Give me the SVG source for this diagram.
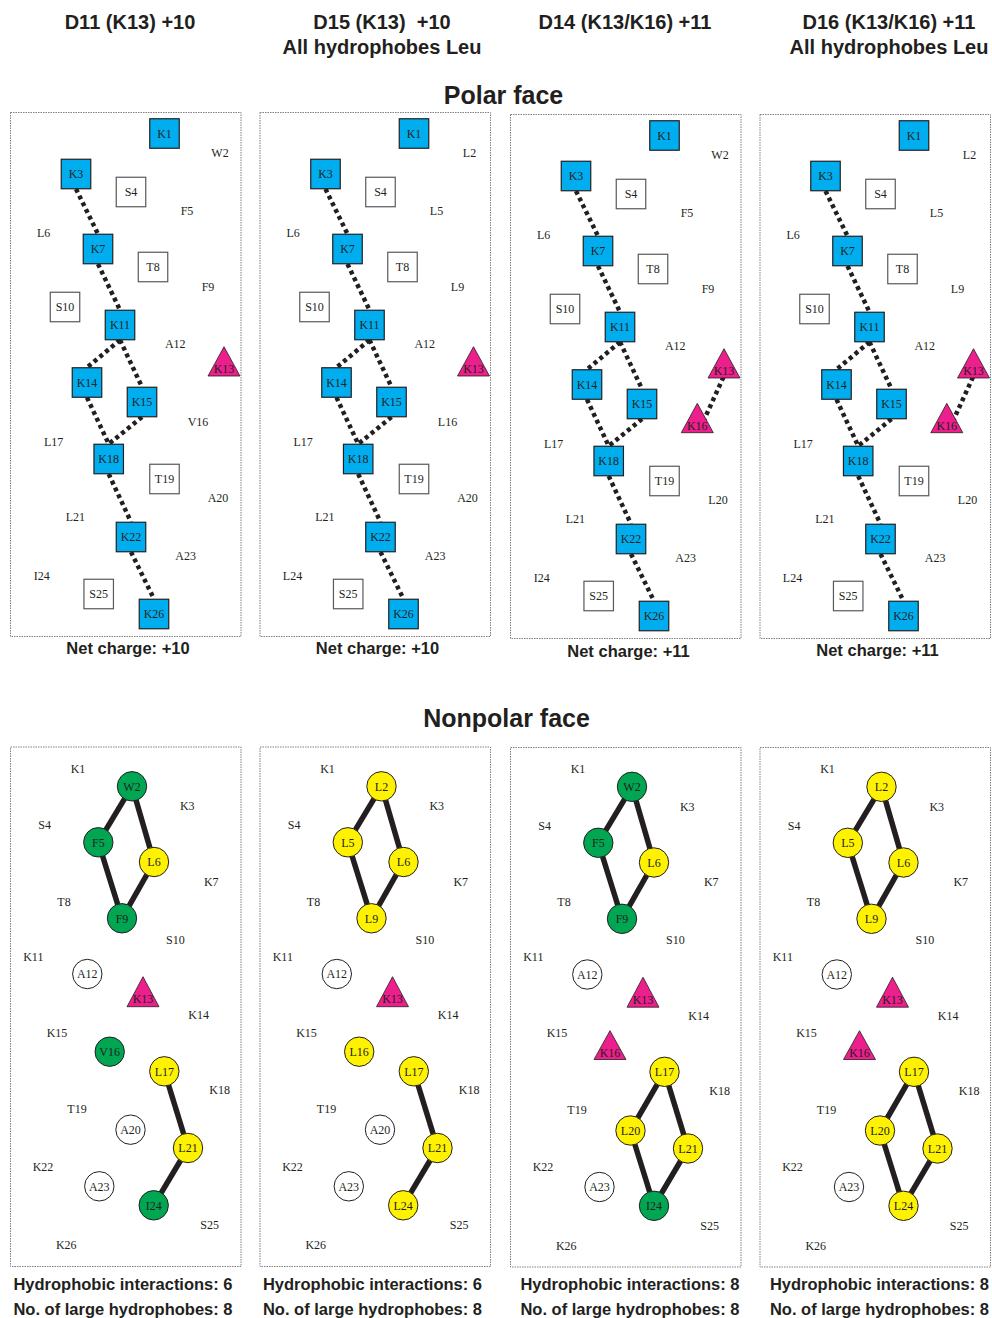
<svg xmlns="http://www.w3.org/2000/svg" width="992" height="1318" viewBox="0 0 992 1318">
<style>
.sq{fill:#00AEEF;stroke:#231F20;stroke-width:1.2}
.ws{fill:#fff;stroke:#58595B;stroke-width:1.2}
.tri{fill:#EC1F8C;stroke:#231F20;stroke-width:0.8}
.cg{fill:#00A651;stroke:#231F20;stroke-width:1}
.cy{fill:#FFF200;stroke:#231F20;stroke-width:1}
.cw{fill:#fff;stroke:#231F20;stroke-width:1}
.t{font-family:"Liberation Serif","Times New Roman",serif;font-size:12px;fill:#231F20;text-anchor:middle}
.dot{stroke:#231F20;stroke-width:4.5;stroke-dasharray:4 3.5;fill:none}
.bond{stroke:#231F20;stroke-width:5.5;fill:none}
.frame{fill:none;stroke:#808080;stroke-width:1;stroke-dasharray:1.5 1}
.h{font-family:"Liberation Sans",Arial,sans-serif;font-weight:bold;fill:#231F20;text-anchor:middle}
.h20{font-size:20px}
.h25{font-size:25px}
.h16{font-size:16.5px}
</style>

<!-- Titles -->
<g id="titles">
<text class="h h20" x="130" y="29">D11 (K13) +10</text>
<text class="h h20" x="382" y="29" xml:space="preserve" style="white-space:pre">D15 (K13)  +10</text>
<text class="h h20" x="382" y="54">All hydrophobes Leu</text>
<text class="h h20" x="625" y="29">D14 (K13/K16) +11</text>
<text class="h h20" x="889" y="29">D16 (K13/K16) +11</text>
<text class="h h20" x="889" y="54">All hydrophobes Leu</text>
<text class="h h25" x="503.5" y="104">Polar face</text>
<text class="h h25" x="506.5" y="727">Nonpolar face</text>
</g>

<!-- ===== POLAR PANEL 1 (D11) ===== -->
<g id="polar-D11">
<rect class="frame" x="10.5" y="112.5" width="230.5" height="524"/>
<g id="polar-D11-connectors">
<line class="dot" x1="76" y1="189" x2="98" y2="234"/>
<line class="dot" x1="98" y1="264" x2="120" y2="310"/>
<line class="dot" x1="120" y1="340" x2="87" y2="367.5"/>
<line class="dot" x1="120" y1="340" x2="142" y2="387"/>
<line class="dot" x1="87" y1="397.5" x2="108.7" y2="444"/>
<line class="dot" x1="142" y1="417" x2="108.7" y2="444"/>
<line class="dot" x1="108.7" y1="474" x2="131" y2="522"/>
<line class="dot" x1="131" y1="552" x2="154" y2="599"/>
</g>
<g id="p1-K1"><rect class="sq" x="149.75" y="118.75" width="29.5" height="29.5"/><text class="t" x="164.5" y="137.7">K1</text></g>
<g id="p1-K3"><rect class="sq" x="61.25" y="159.25" width="29.5" height="29.5"/><text class="t" x="76" y="178.2">K3</text></g>
<g id="p1-S4"><rect class="ws" x="116.25" y="177.25" width="29.5" height="29.5"/><text class="t" x="131" y="196.2">S4</text></g>
<g id="p1-K7"><rect class="sq" x="83.25" y="234.25" width="29.5" height="29.5"/><text class="t" x="98" y="253.2">K7</text></g>
<g id="p1-T8"><rect class="ws" x="138.25" y="252.25" width="29.5" height="29.5"/><text class="t" x="153" y="271.2">T8</text></g>
<g id="p1-S10"><rect class="ws" x="50.25" y="292.25" width="29.5" height="29.5"/><text class="t" x="65" y="311.2">S10</text></g>
<g id="p1-K11"><rect class="sq" x="105.25" y="310.25" width="29.5" height="29.5"/><text class="t" x="120" y="329.2">K11</text></g>
<g id="p1-K13"><polygon class="tri" points="224,346.7 208,376 240,376"/><text class="t" x="224" y="372.5">K13</text></g>
<g id="p1-K14"><rect class="sq" x="72.25" y="367.75" width="29.5" height="29.5"/><text class="t" x="87" y="386.7">K14</text></g>
<g id="p1-K15"><rect class="sq" x="127.25" y="387.25" width="29.5" height="29.5"/><text class="t" x="142" y="406.2">K15</text></g>
<g id="p1-K18"><rect class="sq" x="93.95" y="444.25" width="29.5" height="29.5"/><text class="t" x="108.7" y="463.2">K18</text></g>
<g id="p1-T19"><rect class="ws" x="149.75" y="464.25" width="29.5" height="29.5"/><text class="t" x="164.5" y="483.2">T19</text></g>
<g id="p1-K22"><rect class="sq" x="116.25" y="522.25" width="29.5" height="29.5"/><text class="t" x="131" y="541.2">K22</text></g>
<g id="p1-S25"><rect class="ws" x="83.95" y="579.25" width="29.5" height="29.5"/><text class="t" x="98.7" y="598.2">S25</text></g>
<g id="p1-K26"><rect class="sq" x="139.25" y="599.25" width="29.5" height="29.5"/><text class="t" x="154" y="618.2">K26</text></g>
<g id="p1-labels">
<text class="t" x="220" y="156.9">W2</text>
<text class="t" x="187" y="214.9">F5</text>
<text class="t" x="43.7" y="237.2">L6</text>
<text class="t" x="208" y="290.9">F9</text>
<text class="t" x="175.3" y="348.2">A12</text>
<text class="t" x="198" y="425.9">V16</text>
<text class="t" x="53.7" y="445.9">L17</text>
<text class="t" x="218" y="501.9">A20</text>
<text class="t" x="75.3" y="520.9">L21</text>
<text class="t" x="185.7" y="559.9">A23</text>
<text class="t" x="41.7" y="580.2">I24</text>
</g>
</g>

<!-- ===== POLAR PANEL 2 (D15) ===== -->
<g id="polar-D15" transform="translate(249.5,0)">
<rect class="frame" x="10.5" y="112.5" width="230.5" height="524"/>
<g id="polar-D15-connectors">
<line class="dot" x1="76" y1="189" x2="98" y2="234"/>
<line class="dot" x1="98" y1="264" x2="120" y2="310"/>
<line class="dot" x1="120" y1="340" x2="87" y2="367.5"/>
<line class="dot" x1="120" y1="340" x2="142" y2="387"/>
<line class="dot" x1="87" y1="397.5" x2="108.7" y2="444"/>
<line class="dot" x1="142" y1="417" x2="108.7" y2="444"/>
<line class="dot" x1="108.7" y1="474" x2="131" y2="522"/>
<line class="dot" x1="131" y1="552" x2="154" y2="599"/>
</g>
<g id="p2-K1"><rect class="sq" x="149.75" y="118.75" width="29.5" height="29.5"/><text class="t" x="164.5" y="137.7">K1</text></g>
<g id="p2-K3"><rect class="sq" x="61.25" y="159.25" width="29.5" height="29.5"/><text class="t" x="76" y="178.2">K3</text></g>
<g id="p2-S4"><rect class="ws" x="116.25" y="177.25" width="29.5" height="29.5"/><text class="t" x="131" y="196.2">S4</text></g>
<g id="p2-K7"><rect class="sq" x="83.25" y="234.25" width="29.5" height="29.5"/><text class="t" x="98" y="253.2">K7</text></g>
<g id="p2-T8"><rect class="ws" x="138.25" y="252.25" width="29.5" height="29.5"/><text class="t" x="153" y="271.2">T8</text></g>
<g id="p2-S10"><rect class="ws" x="50.25" y="292.25" width="29.5" height="29.5"/><text class="t" x="65" y="311.2">S10</text></g>
<g id="p2-K11"><rect class="sq" x="105.25" y="310.25" width="29.5" height="29.5"/><text class="t" x="120" y="329.2">K11</text></g>
<g id="p2-K13"><polygon class="tri" points="224,346.7 208,376 240,376"/><text class="t" x="224" y="372.5">K13</text></g>
<g id="p2-K14"><rect class="sq" x="72.25" y="367.75" width="29.5" height="29.5"/><text class="t" x="87" y="386.7">K14</text></g>
<g id="p2-K15"><rect class="sq" x="127.25" y="387.25" width="29.5" height="29.5"/><text class="t" x="142" y="406.2">K15</text></g>
<g id="p2-K18"><rect class="sq" x="93.95" y="444.25" width="29.5" height="29.5"/><text class="t" x="108.7" y="463.2">K18</text></g>
<g id="p2-T19"><rect class="ws" x="149.75" y="464.25" width="29.5" height="29.5"/><text class="t" x="164.5" y="483.2">T19</text></g>
<g id="p2-K22"><rect class="sq" x="116.25" y="522.25" width="29.5" height="29.5"/><text class="t" x="131" y="541.2">K22</text></g>
<g id="p2-S25"><rect class="ws" x="83.95" y="579.25" width="29.5" height="29.5"/><text class="t" x="98.7" y="598.2">S25</text></g>
<g id="p2-K26"><rect class="sq" x="139.25" y="599.25" width="29.5" height="29.5"/><text class="t" x="154" y="618.2">K26</text></g>
<g id="p2-labels">
<text class="t" x="220" y="156.9">L2</text>
<text class="t" x="187" y="214.9">L5</text>
<text class="t" x="43.7" y="237.2">L6</text>
<text class="t" x="208" y="290.9">L9</text>
<text class="t" x="175.3" y="348.2">A12</text>
<text class="t" x="198" y="425.9">L16</text>
<text class="t" x="53.7" y="445.9">L17</text>
<text class="t" x="218" y="501.9">A20</text>
<text class="t" x="75.3" y="520.9">L21</text>
<text class="t" x="185.7" y="559.9">A23</text>
<text class="t" x="43" y="580.2">L24</text>
</g>
</g>

<!-- ===== POLAR PANEL 3 (D14) ===== -->
<g id="polar-D14" transform="translate(500,2)">
<rect class="frame" x="10.5" y="112.5" width="230.5" height="524"/>
<g id="polar-D14-connectors">
<line class="dot" x1="76" y1="189" x2="98" y2="234"/>
<line class="dot" x1="98" y1="264" x2="120" y2="310"/>
<line class="dot" x1="120" y1="340" x2="87" y2="367.5"/>
<line class="dot" x1="120" y1="340" x2="142" y2="387"/>
<line class="dot" x1="87" y1="397.5" x2="108.7" y2="444"/>
<line class="dot" x1="142" y1="417" x2="108.7" y2="444"/>
<line class="dot" x1="108.7" y1="474" x2="131" y2="522"/>
<line class="dot" x1="131" y1="552" x2="154" y2="599"/>
<line class="dot" x1="223.5" y1="375" x2="203.5" y2="419"/>
</g>
<g id="p3-K1"><rect class="sq" x="149.75" y="118.75" width="29.5" height="29.5"/><text class="t" x="164.5" y="137.7">K1</text></g>
<g id="p3-K3"><rect class="sq" x="61.25" y="159.25" width="29.5" height="29.5"/><text class="t" x="76" y="178.2">K3</text></g>
<g id="p3-S4"><rect class="ws" x="116.25" y="177.25" width="29.5" height="29.5"/><text class="t" x="131" y="196.2">S4</text></g>
<g id="p3-K7"><rect class="sq" x="83.25" y="234.25" width="29.5" height="29.5"/><text class="t" x="98" y="253.2">K7</text></g>
<g id="p3-T8"><rect class="ws" x="138.25" y="252.25" width="29.5" height="29.5"/><text class="t" x="153" y="271.2">T8</text></g>
<g id="p3-S10"><rect class="ws" x="50.25" y="292.25" width="29.5" height="29.5"/><text class="t" x="65" y="311.2">S10</text></g>
<g id="p3-K11"><rect class="sq" x="105.25" y="310.25" width="29.5" height="29.5"/><text class="t" x="120" y="329.2">K11</text></g>
<g id="p3-K13"><polygon class="tri" points="224,346.7 208,376 240,376"/><text class="t" x="224" y="372.5">K13</text></g>
<g id="p3-K14"><rect class="sq" x="72.25" y="367.75" width="29.5" height="29.5"/><text class="t" x="87" y="386.7">K14</text></g>
<g id="p3-K15"><rect class="sq" x="127.25" y="387.25" width="29.5" height="29.5"/><text class="t" x="142" y="406.2">K15</text></g>
<g id="p3-K16"><polygon class="tri" points="197.3,401.3 181.3,430.7 213.3,430.7"/><text class="t" x="197.3" y="428">K16</text></g>
<g id="p3-K18"><rect class="sq" x="93.95" y="444.25" width="29.5" height="29.5"/><text class="t" x="108.7" y="463.2">K18</text></g>
<g id="p3-T19"><rect class="ws" x="149.75" y="464.25" width="29.5" height="29.5"/><text class="t" x="164.5" y="483.2">T19</text></g>
<g id="p3-K22"><rect class="sq" x="116.25" y="522.25" width="29.5" height="29.5"/><text class="t" x="131" y="541.2">K22</text></g>
<g id="p3-S25"><rect class="ws" x="83.95" y="579.25" width="29.5" height="29.5"/><text class="t" x="98.7" y="598.2">S25</text></g>
<g id="p3-K26"><rect class="sq" x="139.25" y="599.25" width="29.5" height="29.5"/><text class="t" x="154" y="618.2">K26</text></g>
<g id="p3-labels">
<text class="t" x="220" y="156.9">W2</text>
<text class="t" x="187" y="214.9">F5</text>
<text class="t" x="43.7" y="237.2">L6</text>
<text class="t" x="208" y="290.9">F9</text>
<text class="t" x="175.3" y="348.2">A12</text>
<text class="t" x="53.7" y="445.9">L17</text>
<text class="t" x="218" y="501.9">L20</text>
<text class="t" x="75.3" y="520.9">L21</text>
<text class="t" x="185.7" y="559.9">A23</text>
<text class="t" x="41.7" y="580.2">I24</text>
</g>
</g>

<!-- ===== POLAR PANEL 4 (D16) ===== -->
<g id="polar-D16" transform="translate(749.5,2)">
<rect class="frame" x="10.5" y="112.5" width="230.5" height="524"/>
<g id="polar-D16-connectors">
<line class="dot" x1="76" y1="189" x2="98" y2="234"/>
<line class="dot" x1="98" y1="264" x2="120" y2="310"/>
<line class="dot" x1="120" y1="340" x2="87" y2="367.5"/>
<line class="dot" x1="120" y1="340" x2="142" y2="387"/>
<line class="dot" x1="87" y1="397.5" x2="108.7" y2="444"/>
<line class="dot" x1="142" y1="417" x2="108.7" y2="444"/>
<line class="dot" x1="108.7" y1="474" x2="131" y2="522"/>
<line class="dot" x1="131" y1="552" x2="154" y2="599"/>
<line class="dot" x1="223.5" y1="375" x2="203.5" y2="419"/>
</g>
<g id="p4-K1"><rect class="sq" x="149.75" y="118.75" width="29.5" height="29.5"/><text class="t" x="164.5" y="137.7">K1</text></g>
<g id="p4-K3"><rect class="sq" x="61.25" y="159.25" width="29.5" height="29.5"/><text class="t" x="76" y="178.2">K3</text></g>
<g id="p4-S4"><rect class="ws" x="116.25" y="177.25" width="29.5" height="29.5"/><text class="t" x="131" y="196.2">S4</text></g>
<g id="p4-K7"><rect class="sq" x="83.25" y="234.25" width="29.5" height="29.5"/><text class="t" x="98" y="253.2">K7</text></g>
<g id="p4-T8"><rect class="ws" x="138.25" y="252.25" width="29.5" height="29.5"/><text class="t" x="153" y="271.2">T8</text></g>
<g id="p4-S10"><rect class="ws" x="50.25" y="292.25" width="29.5" height="29.5"/><text class="t" x="65" y="311.2">S10</text></g>
<g id="p4-K11"><rect class="sq" x="105.25" y="310.25" width="29.5" height="29.5"/><text class="t" x="120" y="329.2">K11</text></g>
<g id="p4-K13"><polygon class="tri" points="224,346.7 208,376 240,376"/><text class="t" x="224" y="372.5">K13</text></g>
<g id="p4-K14"><rect class="sq" x="72.25" y="367.75" width="29.5" height="29.5"/><text class="t" x="87" y="386.7">K14</text></g>
<g id="p4-K15"><rect class="sq" x="127.25" y="387.25" width="29.5" height="29.5"/><text class="t" x="142" y="406.2">K15</text></g>
<g id="p4-K16"><polygon class="tri" points="197.3,401.3 181.3,430.7 213.3,430.7"/><text class="t" x="197.3" y="428">K16</text></g>
<g id="p4-K18"><rect class="sq" x="93.95" y="444.25" width="29.5" height="29.5"/><text class="t" x="108.7" y="463.2">K18</text></g>
<g id="p4-T19"><rect class="ws" x="149.75" y="464.25" width="29.5" height="29.5"/><text class="t" x="164.5" y="483.2">T19</text></g>
<g id="p4-K22"><rect class="sq" x="116.25" y="522.25" width="29.5" height="29.5"/><text class="t" x="131" y="541.2">K22</text></g>
<g id="p4-S25"><rect class="ws" x="83.95" y="579.25" width="29.5" height="29.5"/><text class="t" x="98.7" y="598.2">S25</text></g>
<g id="p4-K26"><rect class="sq" x="139.25" y="599.25" width="29.5" height="29.5"/><text class="t" x="154" y="618.2">K26</text></g>
<g id="p4-labels">
<text class="t" x="220" y="156.9">L2</text>
<text class="t" x="187" y="214.9">L5</text>
<text class="t" x="43.7" y="237.2">L6</text>
<text class="t" x="208" y="290.9">L9</text>
<text class="t" x="175.3" y="348.2">A12</text>
<text class="t" x="53.7" y="445.9">L17</text>
<text class="t" x="218" y="501.9">L20</text>
<text class="t" x="75.3" y="520.9">L21</text>
<text class="t" x="185.7" y="559.9">A23</text>
<text class="t" x="43" y="580.2">L24</text>
</g>
</g>

<!-- Net charge captions -->
<g id="net-charge">
<text class="h h16" x="128" y="654">Net charge: +10</text>
<text class="h h16" x="377.5" y="654">Net charge: +10</text>
<text class="h h16" x="628.5" y="656.5">Net charge: +11</text>
<text class="h h16" x="877.5" y="656">Net charge: +11</text>
</g>

<!-- ===== NONPOLAR PANEL 1 (D11) ===== -->
<g id="nonpolar-D11">
<rect class="frame" x="10.5" y="747" width="230.5" height="519.5"/>
<g id="n1-connectors">
<line class="bond" x1="132" y1="786.3" x2="98.3" y2="842.3"/>
<line class="bond" x1="132" y1="786.3" x2="154" y2="862"/>
<line class="bond" x1="98.3" y1="842.3" x2="122" y2="918.3"/>
<line class="bond" x1="154" y1="862" x2="122" y2="918.3"/>
<line class="bond" x1="164.3" y1="1071.3" x2="188" y2="1148"/>
<line class="bond" x1="188" y1="1148" x2="153.7" y2="1205.3"/>
</g>
<g id="n1-W2"><circle class="cg" cx="132" cy="786.3" r="14.7"/><text class="t" x="132" y="790.5">W2</text></g>
<g id="n1-F5"><circle class="cg" cx="98.3" cy="842.3" r="14.7"/><text class="t" x="98.3" y="846.5">F5</text></g>
<g id="n1-L6"><circle class="cy" cx="154" cy="862" r="14.7"/><text class="t" x="154" y="866.2">L6</text></g>
<g id="n1-F9"><circle class="cg" cx="122" cy="918.3" r="14.7"/><text class="t" x="122" y="922.5">F9</text></g>
<g id="n1-A12"><circle class="cw" cx="87.3" cy="974" r="14.7"/><text class="t" x="87.3" y="978.2">A12</text></g>
<g id="n1-K13"><polygon class="tri" points="143,976.7 127,1006.7 159,1006.7"/><text class="t" x="143" y="1003">K13</text></g>
<g id="n1-V16"><circle class="cg" cx="109.7" cy="1051.7" r="14.7"/><text class="t" x="109.7" y="1055.9">V16</text></g>
<g id="n1-L17"><circle class="cy" cx="164.3" cy="1071.3" r="14.7"/><text class="t" x="164.3" y="1075.5">L17</text></g>
<g id="n1-A20"><circle class="cw" cx="130.5" cy="1129.7" r="14.7"/><text class="t" x="130.5" y="1133.9">A20</text></g>
<g id="n1-L21"><circle class="cy" cx="188" cy="1148" r="14.7"/><text class="t" x="188" y="1152.2">L21</text></g>
<g id="n1-A23"><circle class="cw" cx="99.3" cy="1186.3" r="14.7"/><text class="t" x="99.3" y="1190.5">A23</text></g>
<g id="n1-I24"><circle class="cg" cx="153.7" cy="1205.3" r="14.7"/><text class="t" x="153.7" y="1209.5">I24</text></g>
<g id="n1-labels">
<text class="t" x="78" y="772.5">K1</text>
<text class="t" x="187.3" y="810.2">K3</text>
<text class="t" x="44.7" y="829.2">S4</text>
<text class="t" x="211.3" y="885.9">K7</text>
<text class="t" x="64" y="905.9">T8</text>
<text class="t" x="175.3" y="943.5">S10</text>
<text class="t" x="33.3" y="960.9">K11</text>
<text class="t" x="198.7" y="1019.2">K14</text>
<text class="t" x="57" y="1036.9">K15</text>
<text class="t" x="219.7" y="1094.2">K18</text>
<text class="t" x="77" y="1113.2">T19</text>
<text class="t" x="43" y="1170.9">K22</text>
<text class="t" x="209.7" y="1229.2">S25</text>
<text class="t" x="66.3" y="1249.2">K26</text>
</g>
</g>

<!-- ===== NONPOLAR PANEL 2 (D15) ===== -->
<g id="nonpolar-D15" transform="translate(249.5,0)">
<rect class="frame" x="10.5" y="747" width="230.5" height="519.5"/>
<g id="n2-connectors">
<line class="bond" x1="132" y1="786.3" x2="98.3" y2="842.3"/>
<line class="bond" x1="132" y1="786.3" x2="154" y2="862"/>
<line class="bond" x1="98.3" y1="842.3" x2="122" y2="918.3"/>
<line class="bond" x1="154" y1="862" x2="122" y2="918.3"/>
<line class="bond" x1="164.3" y1="1071.3" x2="188" y2="1148"/>
<line class="bond" x1="188" y1="1148" x2="153.7" y2="1205.3"/>
</g>
<g id="n2-L2"><circle class="cy" cx="132" cy="786.3" r="14.7"/><text class="t" x="132" y="790.5">L2</text></g>
<g id="n2-L5"><circle class="cy" cx="98.3" cy="842.3" r="14.7"/><text class="t" x="98.3" y="846.5">L5</text></g>
<g id="n2-L6"><circle class="cy" cx="154" cy="862" r="14.7"/><text class="t" x="154" y="866.2">L6</text></g>
<g id="n2-L9"><circle class="cy" cx="122" cy="918.3" r="14.7"/><text class="t" x="122" y="922.5">L9</text></g>
<g id="n2-A12"><circle class="cw" cx="87.3" cy="974" r="14.7"/><text class="t" x="87.3" y="978.2">A12</text></g>
<g id="n2-K13"><polygon class="tri" points="143,976.7 127,1006.7 159,1006.7"/><text class="t" x="143" y="1003">K13</text></g>
<g id="n2-L16"><circle class="cy" cx="109.7" cy="1051.7" r="14.7"/><text class="t" x="109.7" y="1055.9">L16</text></g>
<g id="n2-L17"><circle class="cy" cx="164.3" cy="1071.3" r="14.7"/><text class="t" x="164.3" y="1075.5">L17</text></g>
<g id="n2-A20"><circle class="cw" cx="130.5" cy="1129.7" r="14.7"/><text class="t" x="130.5" y="1133.9">A20</text></g>
<g id="n2-L21"><circle class="cy" cx="188" cy="1148" r="14.7"/><text class="t" x="188" y="1152.2">L21</text></g>
<g id="n2-A23"><circle class="cw" cx="99.3" cy="1186.3" r="14.7"/><text class="t" x="99.3" y="1190.5">A23</text></g>
<g id="n2-L24"><circle class="cy" cx="153.7" cy="1205.3" r="14.7"/><text class="t" x="153.7" y="1209.5">L24</text></g>
<g id="n2-labels">
<text class="t" x="78" y="772.5">K1</text>
<text class="t" x="187.3" y="810.2">K3</text>
<text class="t" x="44.7" y="829.2">S4</text>
<text class="t" x="211.3" y="885.9">K7</text>
<text class="t" x="64" y="905.9">T8</text>
<text class="t" x="175.3" y="943.5">S10</text>
<text class="t" x="33.3" y="960.9">K11</text>
<text class="t" x="198.7" y="1019.2">K14</text>
<text class="t" x="57" y="1036.9">K15</text>
<text class="t" x="219.7" y="1094.2">K18</text>
<text class="t" x="77" y="1113.2">T19</text>
<text class="t" x="43" y="1170.9">K22</text>
<text class="t" x="209.7" y="1229.2">S25</text>
<text class="t" x="66.3" y="1249.2">K26</text>
</g>
</g>

<!-- ===== NONPOLAR PANEL 3 (D14) ===== -->
<g id="nonpolar-D14" transform="translate(500,0.5)">
<rect class="frame" x="10.5" y="747" width="230.5" height="519.5"/>
<g id="n3-connectors">
<line class="bond" x1="132" y1="786.3" x2="98.3" y2="842.3"/>
<line class="bond" x1="132" y1="786.3" x2="154" y2="862"/>
<line class="bond" x1="98.3" y1="842.3" x2="122" y2="918.3"/>
<line class="bond" x1="154" y1="862" x2="122" y2="918.3"/>
<line class="bond" x1="164.5" y1="1071.3" x2="130.5" y2="1130"/>
<line class="bond" x1="164.5" y1="1071.3" x2="188" y2="1148"/>
<line class="bond" x1="130.5" y1="1130" x2="154" y2="1205.3"/>
<line class="bond" x1="188" y1="1148" x2="154" y2="1205.3"/>
</g>
<g id="n3-W2"><circle class="cg" cx="132" cy="786.3" r="14.7"/><text class="t" x="132" y="790.5">W2</text></g>
<g id="n3-F5"><circle class="cg" cx="98.3" cy="842.3" r="14.7"/><text class="t" x="98.3" y="846.5">F5</text></g>
<g id="n3-L6"><circle class="cy" cx="154" cy="862" r="14.7"/><text class="t" x="154" y="866.2">L6</text></g>
<g id="n3-F9"><circle class="cg" cx="122" cy="918.3" r="14.7"/><text class="t" x="122" y="922.5">F9</text></g>
<g id="n3-A12"><circle class="cw" cx="87.3" cy="974" r="14.7"/><text class="t" x="87.3" y="978.2">A12</text></g>
<g id="n3-K13"><polygon class="tri" points="143,976.7 127,1006.7 159,1006.7"/><text class="t" x="143" y="1003">K13</text></g>
<g id="n3-K16"><polygon class="tri" points="110,1030.2 94,1059 126,1059"/><text class="t" x="110" y="1056.4">K16</text></g>
<g id="n3-L17"><circle class="cy" cx="164.5" cy="1071.3" r="14.7"/><text class="t" x="164.5" y="1075.5">L17</text></g>
<g id="n3-L20"><circle class="cy" cx="130.5" cy="1130" r="14.7"/><text class="t" x="130.5" y="1134.2">L20</text></g>
<g id="n3-L21"><circle class="cy" cx="188" cy="1148" r="14.7"/><text class="t" x="188" y="1152.2">L21</text></g>
<g id="n3-A23"><circle class="cw" cx="99.5" cy="1186.5" r="14.7"/><text class="t" x="99.5" y="1190.7">A23</text></g>
<g id="n3-I24"><circle class="cg" cx="154" cy="1205.3" r="14.7"/><text class="t" x="154" y="1209.5">I24</text></g>
<g id="n3-labels">
<text class="t" x="78" y="772.5">K1</text>
<text class="t" x="187.3" y="810.2">K3</text>
<text class="t" x="44.7" y="829.2">S4</text>
<text class="t" x="211.3" y="885.9">K7</text>
<text class="t" x="64" y="905.9">T8</text>
<text class="t" x="175.3" y="943.5">S10</text>
<text class="t" x="33.3" y="960.9">K11</text>
<text class="t" x="198.7" y="1019.2">K14</text>
<text class="t" x="57" y="1036.9">K15</text>
<text class="t" x="219.7" y="1094.2">K18</text>
<text class="t" x="77" y="1113.2">T19</text>
<text class="t" x="43" y="1170.9">K22</text>
<text class="t" x="209.7" y="1229.2">S25</text>
<text class="t" x="66.3" y="1249.2">K26</text>
</g>
</g>

<!-- ===== NONPOLAR PANEL 4 (D16) ===== -->
<g id="nonpolar-D16" transform="translate(749.5,0.5)">
<rect class="frame" x="10.5" y="747" width="230.5" height="519.5"/>
<g id="n4-connectors">
<line class="bond" x1="132" y1="786.3" x2="98.3" y2="842.3"/>
<line class="bond" x1="132" y1="786.3" x2="154" y2="862"/>
<line class="bond" x1="98.3" y1="842.3" x2="122" y2="918.3"/>
<line class="bond" x1="154" y1="862" x2="122" y2="918.3"/>
<line class="bond" x1="164.5" y1="1071.3" x2="130.5" y2="1130"/>
<line class="bond" x1="164.5" y1="1071.3" x2="188" y2="1148"/>
<line class="bond" x1="130.5" y1="1130" x2="154" y2="1205.3"/>
<line class="bond" x1="188" y1="1148" x2="154" y2="1205.3"/>
</g>
<g id="n4-L2"><circle class="cy" cx="132" cy="786.3" r="14.7"/><text class="t" x="132" y="790.5">L2</text></g>
<g id="n4-L5"><circle class="cy" cx="98.3" cy="842.3" r="14.7"/><text class="t" x="98.3" y="846.5">L5</text></g>
<g id="n4-L6"><circle class="cy" cx="154" cy="862" r="14.7"/><text class="t" x="154" y="866.2">L6</text></g>
<g id="n4-L9"><circle class="cy" cx="122" cy="918.3" r="14.7"/><text class="t" x="122" y="922.5">L9</text></g>
<g id="n4-A12"><circle class="cw" cx="87.3" cy="974" r="14.7"/><text class="t" x="87.3" y="978.2">A12</text></g>
<g id="n4-K13"><polygon class="tri" points="143,976.7 127,1006.7 159,1006.7"/><text class="t" x="143" y="1003">K13</text></g>
<g id="n4-K16"><polygon class="tri" points="110,1030.2 94,1059 126,1059"/><text class="t" x="110" y="1056.4">K16</text></g>
<g id="n4-L17"><circle class="cy" cx="164.5" cy="1071.3" r="14.7"/><text class="t" x="164.5" y="1075.5">L17</text></g>
<g id="n4-L20"><circle class="cy" cx="130.5" cy="1130" r="14.7"/><text class="t" x="130.5" y="1134.2">L20</text></g>
<g id="n4-L21"><circle class="cy" cx="188" cy="1148" r="14.7"/><text class="t" x="188" y="1152.2">L21</text></g>
<g id="n4-A23"><circle class="cw" cx="99.5" cy="1186.5" r="14.7"/><text class="t" x="99.5" y="1190.7">A23</text></g>
<g id="n4-L24"><circle class="cy" cx="154" cy="1205.3" r="14.7"/><text class="t" x="154" y="1209.5">L24</text></g>
<g id="n4-labels">
<text class="t" x="78" y="772.5">K1</text>
<text class="t" x="187.3" y="810.2">K3</text>
<text class="t" x="44.7" y="829.2">S4</text>
<text class="t" x="211.3" y="885.9">K7</text>
<text class="t" x="64" y="905.9">T8</text>
<text class="t" x="175.3" y="943.5">S10</text>
<text class="t" x="33.3" y="960.9">K11</text>
<text class="t" x="198.7" y="1019.2">K14</text>
<text class="t" x="57" y="1036.9">K15</text>
<text class="t" x="219.7" y="1094.2">K18</text>
<text class="t" x="77" y="1113.2">T19</text>
<text class="t" x="43" y="1170.9">K22</text>
<text class="t" x="209.7" y="1229.2">S25</text>
<text class="t" x="66.3" y="1249.2">K26</text>
</g>
</g>

<!-- Bottom captions -->
<g id="hydrophobic-captions">
<text class="h h16" x="123" y="1289.5">Hydrophobic interactions: 6</text>
<text class="h h16" x="123" y="1315">No. of large hydrophobes: 8</text>
<text class="h h16" x="372.5" y="1289.5">Hydrophobic interactions: 6</text>
<text class="h h16" x="372.5" y="1315">No. of large hydrophobes: 8</text>
<text class="h h16" x="630" y="1289.5">Hydrophobic interactions: 8</text>
<text class="h h16" x="630" y="1315">No. of large hydrophobes: 8</text>
<text class="h h16" x="879.5" y="1289.5">Hydrophobic interactions: 8</text>
<text class="h h16" x="879.5" y="1315">No. of large hydrophobes: 8</text>
</g>
</svg>
